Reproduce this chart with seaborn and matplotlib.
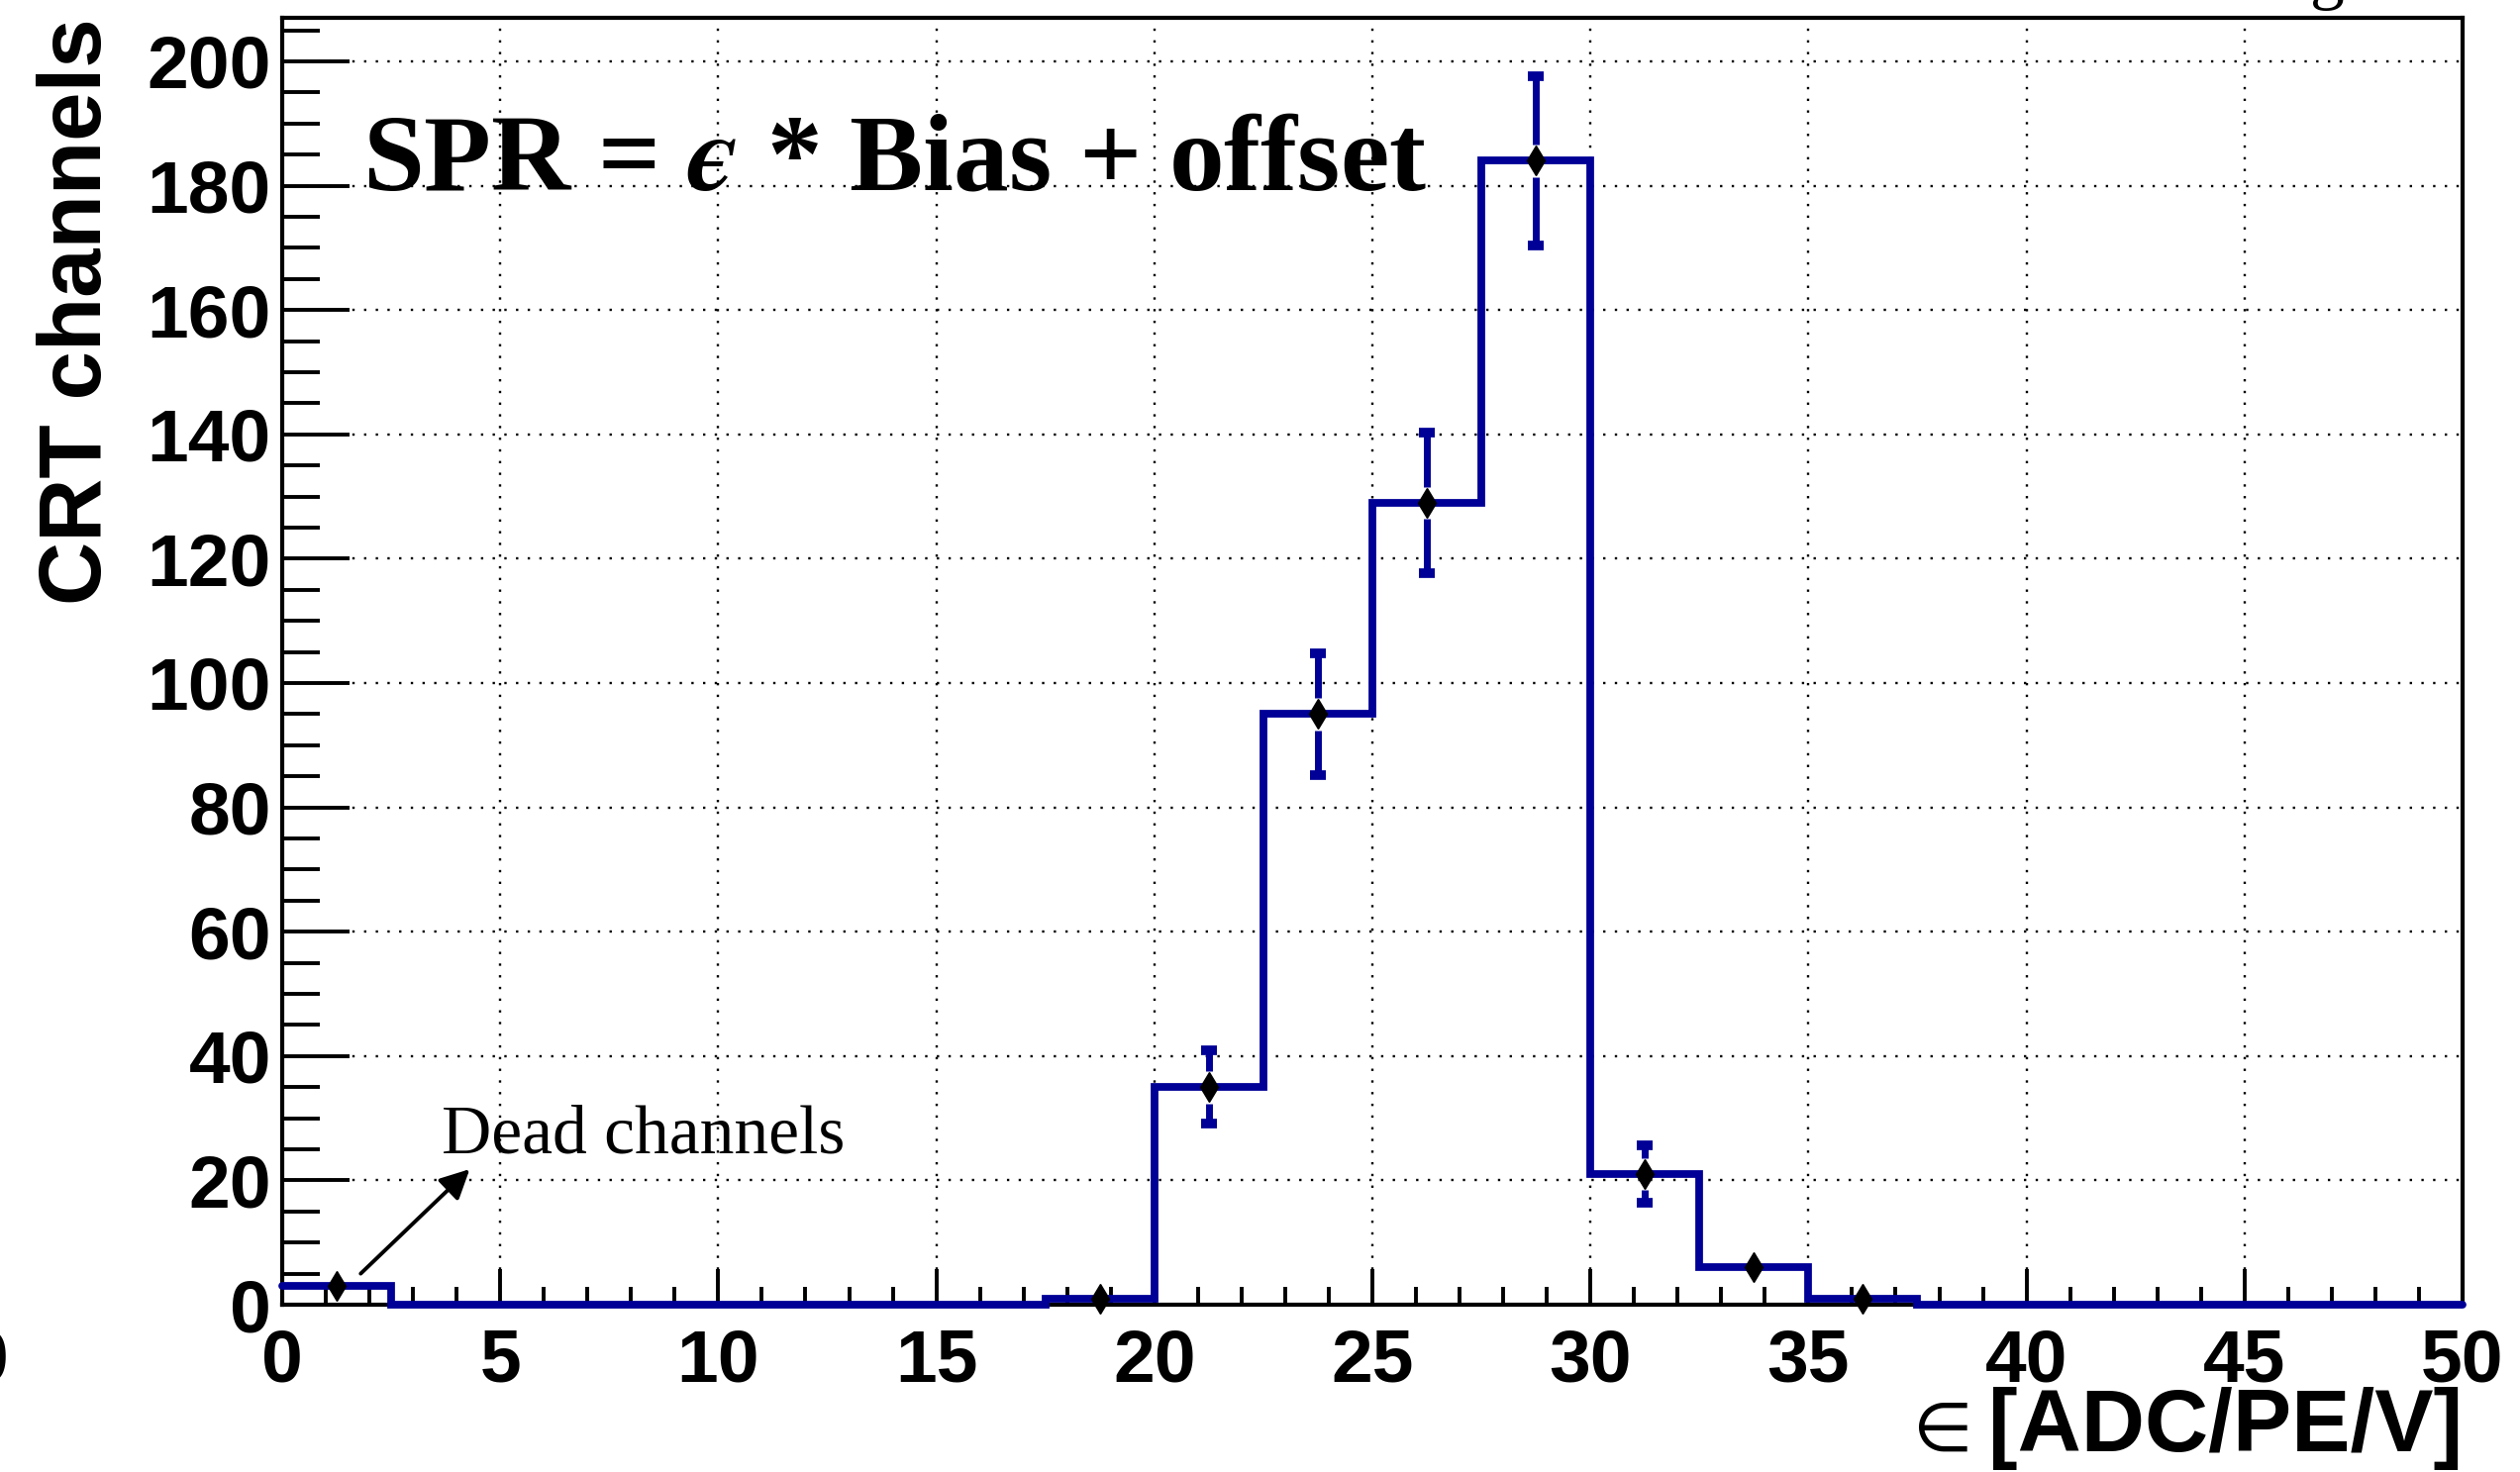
import numpy as np
import pandas as pd
import matplotlib
matplotlib.use("Agg")
import matplotlib.pyplot as plt
import seaborn as sns
from matplotlib.ticker import MultipleLocator, FixedLocator

# Gain (epsilon) distribution over the CRT channels
bin_edges = [0.0, 2.5, 5.0, 7.5, 10.0, 12.5, 15.0, 17.5, 20.0, 22.5, 25.0,
             27.5, 30.0, 32.5, 35.0, 37.5, 40.0, 42.5, 45.0, 47.5, 50.0]
channel_counts = [3, 0, 0, 0, 0, 0, 0, 1, 35, 95, 129, 184, 21, 6, 1, 0, 0, 0, 0, 0]
x_ticks = [0, 5, 10, 15, 20, 25, 30, 35, 40, 45, 50]
y_ticks = [0, 20, 40, 60, 80, 100, 120, 140, 160, 180, 200]

x_symbol = "\u2208"
x_title = "[ADC/PE/V]"
y_title = "CRT channels"
formula = "SPR = $\u03f5$ * Bias + offset"
dead_note = "Dead channels"

BLUE = "#000096"

edges = np.asarray(bin_edges)
bin_centers = 0.5 * (edges[:-1] + edges[1:])
counts = np.asarray(channel_counts, dtype=float)
errors = np.sqrt(counts)
hist_df = pd.DataFrame({"eps": bin_centers, "n": counts})

sns.set_style("white")
plt.rcParams.update({
    "font.family": ["Liberation Sans", "DejaVu Sans"],
    "font.weight": "bold",
    "axes.linewidth": 3.0,
    "axes.edgecolor": "black",
    "text.color": "black",
    "axes.labelcolor": "black",
    "xtick.color": "black",
    "ytick.color": "black",
})

fig = plt.figure(figsize=(25.45, 14.87), dpi=100)
ax = fig.add_axes([0.11198, 0.11365, 0.86523, 0.87424])

# histogram outline
sns.histplot(data=hist_df, x="eps", weights="n", bins=bin_edges, element="step",
             fill=False, color=BLUE, linewidth=5.6, ax=ax, clip_on=False,
             zorder=4, solid_joinstyle="miter")

# statistical error bars with a gap around the marker
nz = counts > 0
gap = 2.6
big = errors > gap
ax.vlines(bin_centers[big], counts[big] + gap, counts[big] + errors[big],
          colors=BLUE, linewidth=5.0, zorder=5)
ax.vlines(bin_centers[big], counts[big] - errors[big], counts[big] - gap,
          colors=BLUE, linewidth=5.0, zorder=5)
ax.plot(bin_centers[big], counts[big] + errors[big], ls="none", marker="_",
        ms=12, mew=7, color=BLUE, zorder=5)
ax.plot(bin_centers[big], counts[big] - errors[big], ls="none", marker="_",
        ms=12, mew=7, color=BLUE, zorder=5)
ax.plot(bin_centers[nz], counts[nz], ls="none", marker="d", ms=15,
        color="black", zorder=6, clip_on=False)

ax.set_xlim(0, 50)
ax.set_ylim(0, 207)
ax.xaxis.set_major_locator(FixedLocator(x_ticks))
ax.yaxis.set_major_locator(FixedLocator(y_ticks))
ax.xaxis.set_minor_locator(MultipleLocator(1))
ax.yaxis.set_minor_locator(MultipleLocator(5))
ax.set_xticklabels([str(t) for t in x_ticks])
ax.set_yticklabels([str(t) for t in y_ticks])

ax.grid(True, which="major", color="black", linestyle=(0, (1, 4.0)),
        linewidth=1.7)
ax.set_axisbelow(True)

ax.tick_params(axis="both", which="both", direction="in", width=2.8,
               labelsize=54, bottom=True, left=True, top=False, right=False,
               color="black", labelcolor="black")
ax.tick_params(axis="x", which="major", length=26, pad=17)
ax.tick_params(axis="x", which="minor", length=13)
ax.tick_params(axis="y", which="major", length=49, pad=8)
ax.tick_params(axis="y", which="minor", length=27)
for lab in ax.get_xticklabels() + ax.get_yticklabels():
    lab.set_fontweight("bold")

ax.set_xlabel(x_title, fontsize=64, fontweight="bold", loc="right")
ax.xaxis.set_label_coords(1.0, -0.0636)
ax.annotate(x_symbol, xy=(0, 0), xycoords=ax.xaxis.label,
            xytext=(-12, 14), textcoords="offset points",
            ha="right", va="baseline", fontsize=50,
            family=["DejaVu Sans"], fontweight="normal",
            annotation_clip=False)
ax.set_ylabel(y_title, fontsize=64, fontweight="bold", loc="top")
ax.yaxis.set_label_coords(-0.0744, 1.0)

ax.text(1.85, 179.3, formula, fontsize=80, fontweight="bold",
        family="Liberation Serif", math_fontfamily="stix",
        ha="left", va="baseline", zorder=7)

ax.text(3.66, 24.5, dead_note, fontsize=50, fontweight="normal",
        family="Liberation Serif", ha="left", va="baseline", zorder=7)
ax.annotate("", xy=(4.3, 21.8), xytext=(1.8, 5.0),
            arrowprops=dict(arrowstyle="-|>", color="black", lw=2.8,
                            mutation_scale=45, shrinkA=0, shrinkB=0),
            zorder=7)

# edges of neighbouring panel text cut by the figure border
fig.text(0.0035, 1 - 1396 / 1487, "0", fontsize=54, fontweight="bold",
         ha="right", va="baseline")
fig.text(2350 / 2545, 1 + 4 / 1487, "g", fontsize=50,
         family="Liberation Serif", fontweight="normal",
         ha="center", va="baseline")

fig.savefig("out.png", dpi=100)
